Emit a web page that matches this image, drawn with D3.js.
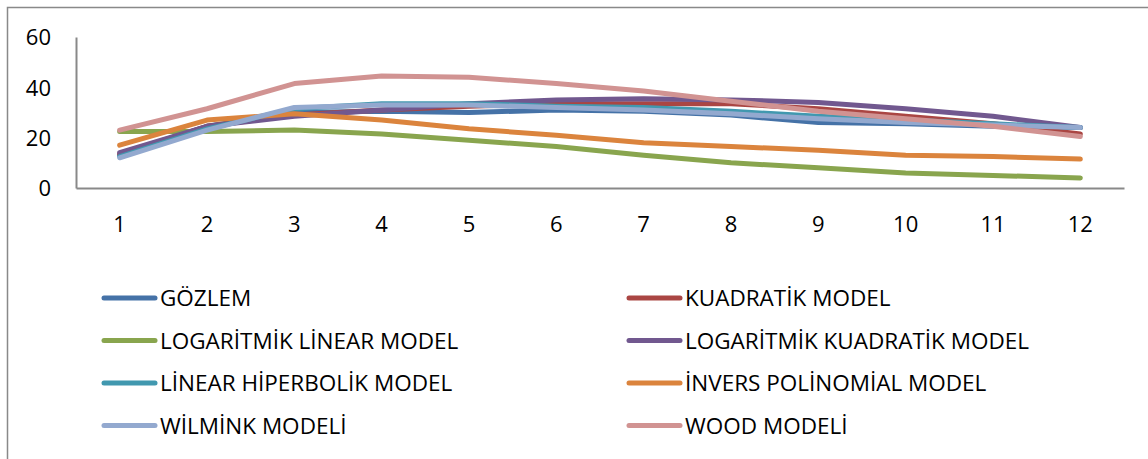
<!DOCTYPE html>
<html>
<head>
<meta charset="utf-8">
<script src="https://cdn.jsdelivr.net/npm/d3@7"></script>
<style>
  html, body { margin: 0; padding: 0; background: #fff; }
  svg { display: block; }
  text { font-family: "Open Sans", "Noto Sans", sans-serif; fill: #000; }
</style>
</head>
<body>
<svg id="chart" width="1148" height="459"></svg>
<script>
// Months of lactation
const months = ["1","2","3","4","5","6","7","8","9","10","11","12"];
const yTicks = [0, 20, 40, 60];

// Observed and fitted values per month
const gozlem          = [13.0, 24.5, 30.0, 30.5, 30.0, 31.0, 30.5, 29.0, 26.0, 25.5, 24.5, 24.0];
const kuadratik       = [13.5, 24.5, 29.0, 31.0, 32.5, 33.5, 33.5, 33.5, 31.5, 28.5, 25.5, 21.5];
const logLinear       = [22.5, 22.5, 23.0, 21.5, 19.0, 16.5, 13.0, 10.0,  8.0,  6.0,  5.0,  4.0];
const logKuadratik    = [14.0, 24.5, 28.5, 31.0, 33.5, 35.0, 35.5, 35.0, 34.0, 31.5, 28.5, 24.0];
const linHiperbolik   = [12.5, 23.5, 31.5, 33.5, 33.5, 32.5, 32.0, 30.5, 28.5, 27.0, 25.5, 24.0];
const inversPolinom   = [17.0, 27.0, 29.5, 27.0, 23.5, 21.0, 18.0, 16.5, 15.0, 13.0, 12.5, 11.5];
const wilmink         = [12.0, 23.0, 32.0, 33.0, 33.0, 32.0, 31.0, 29.5, 27.5, 26.0, 25.0, 24.0];
const wood            = [23.0, 31.5, 41.5, 44.5, 44.0, 41.5, 38.5, 34.5, 30.5, 27.5, 24.5, 20.5];

const seriesNames = [
  "GÖZLEM", "KUADRATİK MODEL", "LOGARİTMİK LİNEAR MODEL", "LOGARİTMİK KUADRATİK MODEL",
  "LİNEAR HİPERBOLİK MODEL", "İNVERS POLİNOMİAL MODEL", "WİLMİNK MODELİ", "WOOD MODELİ"
];
const seriesValues = [gozlem, kuadratik, logLinear, logKuadratik, linHiperbolik, inversPolinom, wilmink, wood];
const seriesColors = ["#4572A7", "#AA4643", "#89A54E", "#71588F", "#4198AF", "#DB843D", "#93A9CF", "#D19392"];

const series = seriesNames.map((name, i) => ({ name, values: seriesValues[i], color: seriesColors[i] }));

const svg = d3.select("#chart");

// Outer chart frame
svg.append("rect")
  .attr("x", 7.5).attr("y", 7.5)
  .attr("width", 1150).attr("height", 460)
  .attr("fill", "none").attr("stroke", "#898989").attr("stroke-width", 1.5);

const plot = { left: 76, right: 1124, top: 37, bottom: 188 };

const x = d3.scaleBand().domain(months).range([plot.left, plot.right]);
const y = d3.scaleLinear().domain([0, 60]).range([plot.bottom, plot.top]);

// Y axis
const yAxis = svg.append("g")
  .attr("transform", `translate(${plot.left},0)`)
  .call(d3.axisLeft(y).tickValues(yTicks).tickSize(0).tickPadding(25));
yAxis.select(".domain").attr("stroke", "#898989").attr("stroke-width", 2);
yAxis.selectAll("text").style("font-size", "22px").attr("fill", "#000").attr("dy", "0.36em");

// X axis
const xAxis = svg.append("g")
  .attr("transform", `translate(0,${plot.bottom})`)
  .call(d3.axisBottom(x).tickSize(0).tickPadding(28));
xAxis.select(".domain").attr("stroke", "#898989").attr("stroke-width", 2);
xAxis.selectAll("text").style("font-size", "22px").attr("fill", "#000");

// Series lines
const line = d3.line()
  .x((d, i) => x(months[i]) + x.bandwidth() / 2)
  .y(d => y(d));

svg.append("g").selectAll("path")
  .data(series)
  .join("path")
  .attr("d", d => line(d.values))
  .attr("fill", "none")
  .attr("stroke", d => d.color)
  .attr("stroke-width", 5)
  .attr("stroke-linecap", "round")
  .attr("stroke-linejoin", "round");

// Legend: two columns, four rows
const legend = svg.append("g");
const colX = [104, 629];
const rowY = [298, 340.5, 383, 425.5];
series.forEach((s, i) => {
  const cx = colX[i % 2];
  const cy = rowY[Math.floor(i / 2)];
  const g = legend.append("g").attr("transform", `translate(${cx},${cy})`);
  g.append("line")
    .attr("x1", 0).attr("x2", 51).attr("y1", 0).attr("y2", 0)
    .attr("stroke", s.color).attr("stroke-width", 5).attr("stroke-linecap", "round");
  g.append("text")
    .attr("x", 56).attr("y", 0).attr("dy", "0.36em")
    .style("font-size", "22.5px")
    .text(s.name);
});
</script>
</body>
</html>
